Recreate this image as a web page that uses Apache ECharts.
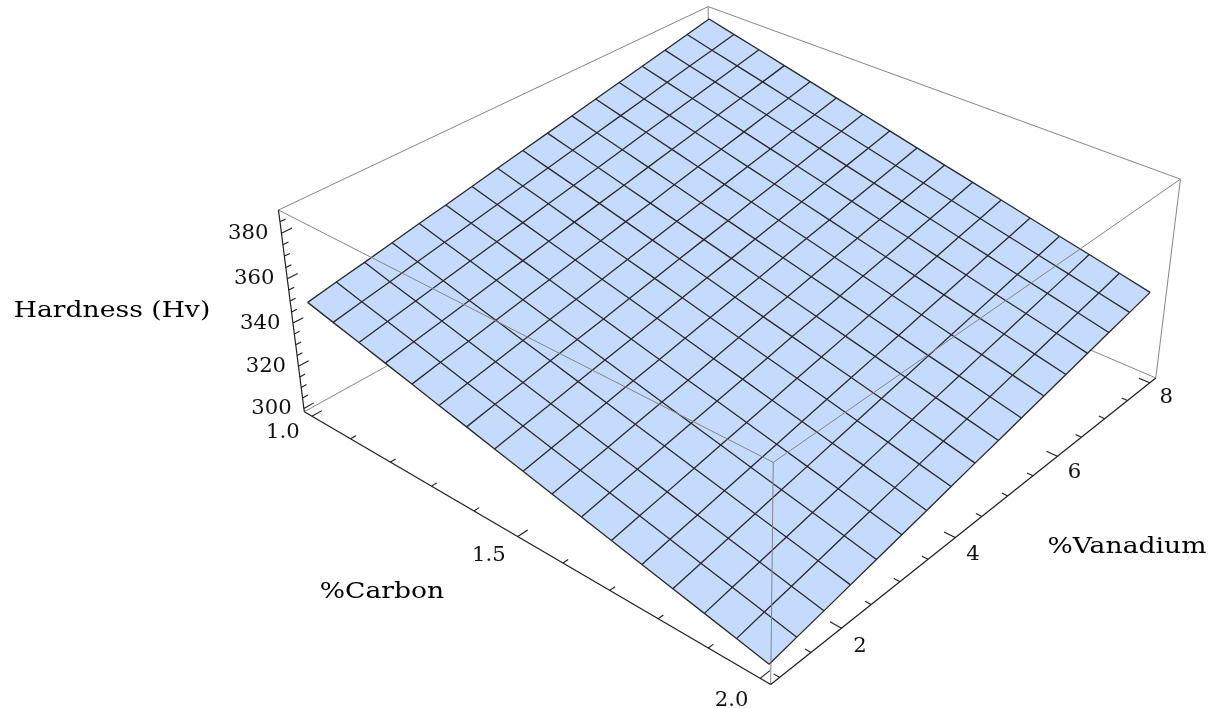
<!DOCTYPE html>
<html>
<head>
<meta charset="utf-8">
<title>Hardness (Hv)</title>
<script src="https://cdn.jsdelivr.net/npm/echarts@6.0.0/dist/echarts.min.js"></script>
<style>
  html, body { margin: 0; padding: 0; background: #ffffff; }
  #chart { width: 1212px; height: 708px; }
</style>
</head>
<body>
<div id="chart"></div>
<script>
// Sample grid of the hardness surface: one row per %Carbon value, one column per %Vanadium value
const carbon = [1.0, 1.0625, 1.125, 1.1875, 1.25, 1.3125, 1.375, 1.4375, 1.5, 1.5625, 1.625, 1.6875, 1.75, 1.8125, 1.875, 1.9375, 2.0];
const vanadium = [1.0, 1.4375, 1.875, 2.3125, 2.75, 3.1875, 3.625, 4.0625, 4.5, 4.9375, 5.375, 5.8125, 6.25, 6.6875, 7.125, 7.5625, 8.0];
const hardness = [
  [349.1, 351.5, 353.8, 356.2, 358.6, 360.9, 363.3, 365.7, 368.1, 370.4, 372.8, 375.2, 377.5, 379.9, 382.3, 384.6, 387.0],
  [346.1, 348.5, 350.8, 353.2, 355.6, 357.9, 360.3, 362.7, 365.1, 367.4, 369.8, 372.2, 374.5, 376.9, 379.3, 381.6, 384.0],
  [343.2, 345.6, 347.9, 350.3, 352.7, 355.0, 357.4, 359.8, 362.2, 364.5, 366.9, 369.3, 371.6, 374.0, 376.4, 378.7, 381.1],
  [340.2, 342.6, 344.9, 347.3, 349.7, 352.0, 354.4, 356.8, 359.2, 361.5, 363.9, 366.3, 368.6, 371.0, 373.4, 375.7, 378.1],
  [337.2, 339.6, 341.9, 344.3, 346.7, 349.0, 351.4, 353.8, 356.2, 358.5, 360.9, 363.3, 365.6, 368.0, 370.4, 372.7, 375.1],
  [334.2, 336.6, 338.9, 341.3, 343.7, 346.0, 348.4, 350.8, 353.2, 355.5, 357.9, 360.3, 362.6, 365.0, 367.4, 369.7, 372.1],
  [331.3, 333.7, 336.0, 338.4, 340.8, 343.1, 345.5, 347.9, 350.3, 352.6, 355.0, 357.4, 359.7, 362.1, 364.5, 366.8, 369.2],
  [328.3, 330.7, 333.0, 335.4, 337.8, 340.1, 342.5, 344.9, 347.3, 349.6, 352.0, 354.4, 356.7, 359.1, 361.5, 363.8, 366.2],
  [325.3, 327.7, 330.0, 332.4, 334.8, 337.1, 339.5, 341.9, 344.3, 346.6, 349.0, 351.4, 353.7, 356.1, 358.5, 360.8, 363.2],
  [322.3, 324.7, 327.0, 329.4, 331.8, 334.1, 336.5, 338.9, 341.3, 343.6, 346.0, 348.4, 350.7, 353.1, 355.5, 357.8, 360.2],
  [319.4, 321.8, 324.1, 326.5, 328.9, 331.2, 333.6, 336.0, 338.4, 340.7, 343.1, 345.5, 347.8, 350.2, 352.6, 354.9, 357.3],
  [316.4, 318.8, 321.1, 323.5, 325.9, 328.2, 330.6, 333.0, 335.4, 337.7, 340.1, 342.5, 344.8, 347.2, 349.6, 351.9, 354.3],
  [313.4, 315.8, 318.1, 320.5, 322.9, 325.2, 327.6, 330.0, 332.4, 334.7, 337.1, 339.5, 341.8, 344.2, 346.6, 348.9, 351.3],
  [310.4, 312.8, 315.1, 317.5, 319.9, 322.2, 324.6, 327.0, 329.4, 331.7, 334.1, 336.5, 338.8, 341.2, 343.6, 345.9, 348.3],
  [307.5, 309.9, 312.2, 314.6, 317.0, 319.3, 321.7, 324.1, 326.5, 328.8, 331.2, 333.6, 335.9, 338.3, 340.7, 343.0, 345.4],
  [304.5, 306.9, 309.2, 311.6, 314.0, 316.3, 318.7, 321.1, 323.5, 325.8, 328.2, 330.6, 332.9, 335.3, 337.7, 340.0, 342.4],
  [301.5, 303.9, 306.2, 308.6, 311.0, 313.3, 315.7, 318.1, 320.5, 322.8, 325.2, 327.6, 329.9, 332.3, 334.7, 337.0, 339.4]
];

// Axis ticks (major ones carry a label)
const carbonTicks = [1.0, 1.1, 1.2, 1.3, 1.4, 1.5, 1.6, 1.7, 1.8, 1.9, 2.0];
const carbonMajor = [1.0, 1.5, 2.0];
const vanadiumTicks = [1, 1.5, 2, 2.5, 3, 3.5, 4, 4.5, 5, 5.5, 6, 6.5, 7, 7.5, 8];
const vanadiumMajor = [2, 4, 6, 8];
const hardnessTicks = [300, 305, 310, 315, 320, 325, 330, 335, 340, 345, 350, 355, 360, 365, 370, 375, 380, 385];
const hardnessMajor = [300, 320, 340, 360, 380];
const hardnessRange = [298.4, 390.0];

// Camera and bounding box
const DEG = Math.PI / 180;
const view = { azimuth: -49, elevation: 32, distance: 3.5, focal: 2173, cx: 735, cy: 297.4 };
const boxRatios = [1, 1, 0.38];
const pad = 0.02;

const SURFACE = '#c4dbfd';
const MESH = '#2a2a2a';
const FRAME = '#858585';
const AXIS = '#1e1e1e';
const TICK_FONT = '20px "DejaVu Serif"';
const TITLE_FONT = '22px "DejaVu Serif"';

function paddedRange(values) {
  const lo = Math.min(...values), hi = Math.max(...values), span = hi - lo;
  return [lo - pad * span, hi + pad * span];
}
const cRange = paddedRange(carbon);
const vRange = paddedRange(vanadium);
const hRange = hardnessRange;

const az = view.azimuth * DEG, el = view.elevation * DEG;
const toEye = [Math.cos(el) * Math.cos(az), Math.cos(el) * Math.sin(az), Math.sin(el)];
const right = [-Math.sin(az), Math.cos(az), 0];
const up = [-Math.cos(az) * Math.sin(el), -Math.sin(az) * Math.sin(el), Math.cos(el)];
const dot = (a, b) => a[0] * b[0] + a[1] * b[1] + a[2] * b[2];
const add = (a, b) => [a[0] + b[0], a[1] + b[1], a[2] + b[2]];
const scale = (a, s) => [a[0] * s, a[1] * s, a[2] * s];

// data values -> box coordinates centred on the origin
function toBox(c, v, h) {
  return [
    ((c - cRange[0]) / (cRange[1] - cRange[0]) - 0.5) * boxRatios[0],
    ((v - vRange[0]) / (vRange[1] - vRange[0]) - 0.5) * boxRatios[1],
    ((h - hRange[0]) / (hRange[1] - hRange[0]) - 0.5) * boxRatios[2]
  ];
}
// perspective projection onto the page
function toScreen(p) {
  const depth = view.distance - dot(p, toEye);
  return [view.cx + view.focal * dot(p, right) / depth, view.cy - view.focal * dot(p, up) / depth];
}
function place(api, p) { return api.coord(toScreen(p)); }

// surface cells
const cells = [];
for (let a = 0; a < carbon.length - 1; a++) {
  for (let b = 0; b < vanadium.length - 1; b++) cells.push([a, b]);
}
function cellItem(params, api) {
  const a = api.value(0), b = api.value(1);
  const pts = [[a, b], [a + 1, b], [a + 1, b + 1], [a, b + 1]].map(
    ([i, j]) => place(api, toBox(carbon[i], vanadium[j], hardness[i][j])));
  return { type: 'polygon', shape: { points: pts }, style: { fill: SURFACE, stroke: SURFACE, lineWidth: 0.6 } };
}

// mesh lines: kind 0 = constant carbon, kind 1 = constant vanadium
const meshLines = [];
carbon.forEach((c, k) => meshLines.push([0, k]));
vanadium.forEach((v, k) => meshLines.push([1, k]));
function meshItem(params, api) {
  const kind = api.value(0), k = api.value(1);
  const pts = kind === 0
    ? vanadium.map((v, j) => place(api, toBox(carbon[k], v, hardness[k][j])))
    : carbon.map((c, i) => place(api, toBox(c, vanadium[k], hardness[i][k])));
  return { type: 'polyline', shape: { points: pts }, style: { stroke: MESH, lineWidth: 1.3, fill: null } };
}

// box edges: corner flags (carbon, vanadium, hardness) for both ends, then 1 for an axis line
const backEdges = [
  [0, 0, 0, 0, 1, 0, 0],
  [0, 1, 0, 1, 1, 0, 0],
  [0, 1, 0, 0, 1, 1, 0]
];
const frontEdges = [
  [0, 0, 1, 0, 1, 1, 0],
  [0, 1, 1, 1, 1, 1, 0],
  [0, 0, 1, 1, 0, 1, 0],
  [1, 0, 1, 1, 1, 1, 0],
  [1, 1, 0, 1, 1, 1, 0],
  [1, 0, 0, 1, 0, 1, 0],
  [0, 0, 0, 0, 0, 1, 1],
  [0, 0, 0, 1, 0, 0, 1],
  [1, 0, 0, 1, 1, 0, 1]
];
function corner(fc, fv, fh) {
  return toBox(cRange[fc], vRange[fv], hRange[fh]);
}
function edgeItem(params, api) {
  const p0 = place(api, corner(api.value(0), api.value(1), api.value(2)));
  const p1 = place(api, corner(api.value(3), api.value(4), api.value(5)));
  const isAxis = api.value(6) === 1;
  return {
    type: 'line',
    shape: { x1: p0[0], y1: p0[1], x2: p1[0], y2: p1[1] },
    style: { stroke: isAxis ? AXIS : FRAME, lineWidth: isAxis ? 1.2 : 1 }
  };
}

// ticks: axis 0 = carbon, 1 = vanadium, 2 = hardness
function tickBase(axis, value) {
  if (axis === 0) return toBox(value, vRange[0], hRange[0]);
  if (axis === 1) return toBox(cRange[1], value, hRange[0]);
  return toBox(cRange[0], vRange[0], value);
}
const tickDir = [[0, 1, 0], [-1, 0, 0], [0, 1, 0]];
const labelShift = [[0, -0.06, 0], [0.034, 0, -0.016], [-0.014, -0.014, 0]];
const ticks = [];
carbonTicks.forEach(v => ticks.push([0, v, carbonMajor.includes(v) ? 1 : 0]));
vanadiumTicks.forEach(v => ticks.push([1, v, vanadiumMajor.includes(v) ? 1 : 0]));
hardnessTicks.forEach(v => ticks.push([2, v, hardnessMajor.includes(v) ? 1 : 0]));
function tickItem(params, api) {
  const axis = api.value(0), value = api.value(1);
  const len = api.value(2) === 1 ? 0.021 : 0.011;
  const base = tickBase(axis, value);
  const p0 = place(api, base);
  const p1 = place(api, add(base, scale(tickDir[axis], len)));
  return { type: 'line', shape: { x1: p0[0], y1: p0[1], x2: p1[0], y2: p1[1] }, style: { stroke: AXIS, lineWidth: 1.1 } };
}

const tickLabels = [];
carbonMajor.forEach(v => tickLabels.push([0, v]));
vanadiumMajor.forEach(v => tickLabels.push([1, v]));
hardnessMajor.forEach(v => tickLabels.push([2, v]));
function labelItem(params, api) {
  const axis = api.value(0), value = api.value(1);
  const p = place(api, add(tickBase(axis, value), labelShift[axis]));
  const text = axis === 0 ? value.toFixed(1) : String(value);
  return {
    type: 'text',
    x: p[0], y: p[1], scaleX: 1.06,
    style: {
      x: 0, y: 0, text: text, font: TICK_FONT, fill: '#111111',
      align: axis === 2 ? 'right' : 'center', verticalAlign: 'middle'
    }
  };
}

function title(text, x, y) {
  return {
    type: 'text', x: x, y: y, scaleX: 1.21, silent: true,
    style: { text: text, font: TITLE_FONT, fill: '#000000', align: 'center', verticalAlign: 'middle' }
  };
}

const chart = echarts.init(document.getElementById('chart'), null, { renderer: 'canvas' });
chart.setOption({
  animation: false,
  backgroundColor: '#ffffff',
  grid: { left: 0, right: 0, top: 0, bottom: 0 },
  xAxis: { type: 'value', min: 0, max: 1212, show: false },
  yAxis: { type: 'value', min: 0, max: 708, inverse: true, show: false },
  graphic: [
    title('Hardness (Hv)', 112, 311),
    title('%Carbon', 382, 592),
    title('%Vanadium', 1127, 547)
  ],
  series: [
    { type: 'custom', z: 1, silent: true, clip: false, data: backEdges, renderItem: edgeItem },
    { type: 'custom', z: 2, silent: true, clip: false, data: cells, renderItem: cellItem },
    { type: 'custom', z: 3, silent: true, clip: false, data: meshLines, renderItem: meshItem },
    { type: 'custom', z: 4, silent: true, clip: false, data: frontEdges, renderItem: edgeItem },
    { type: 'custom', z: 4, silent: true, clip: false, data: ticks, renderItem: tickItem },
    { type: 'custom', z: 5, silent: true, clip: false, data: tickLabels, renderItem: labelItem }
  ]
});
</script>
</body>
</html>
